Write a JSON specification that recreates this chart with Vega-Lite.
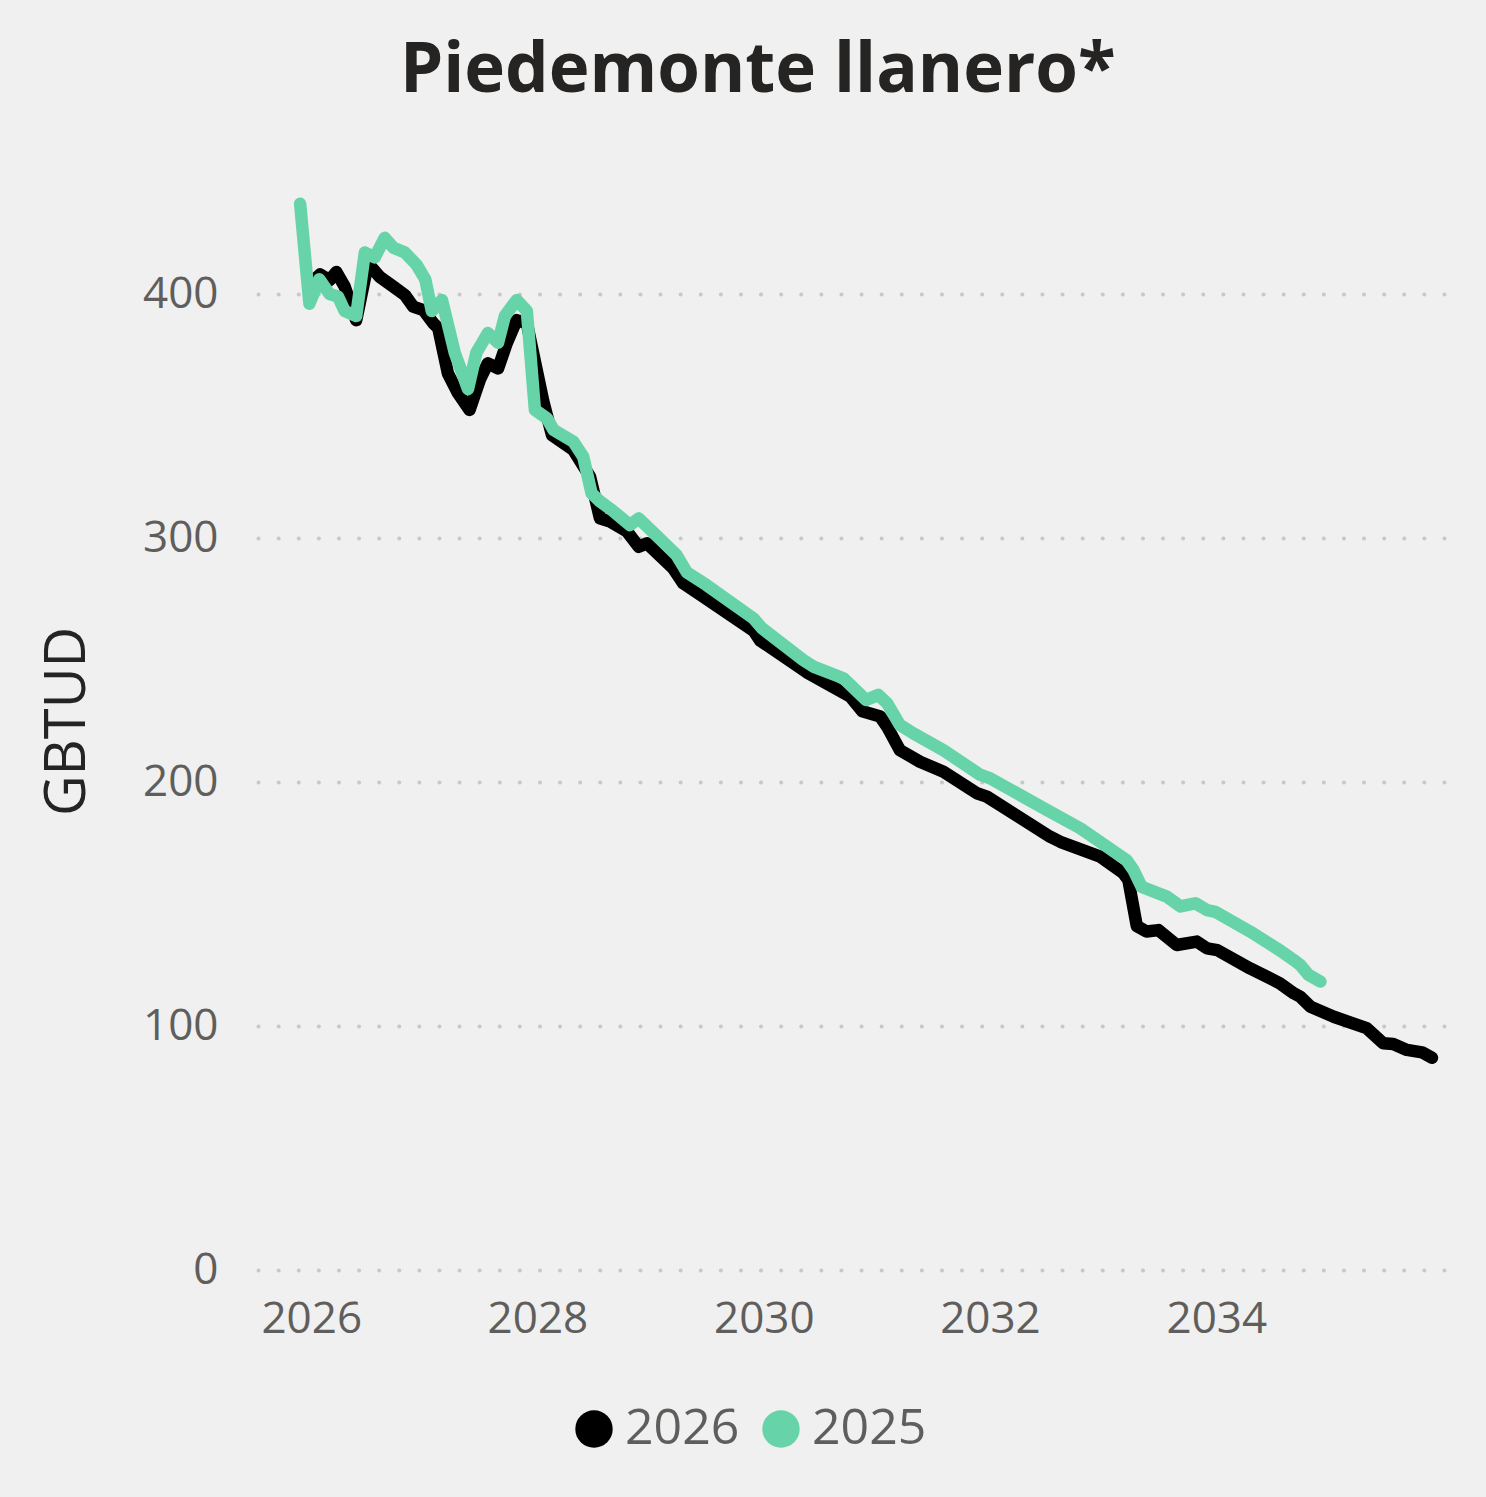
{
  "$schema": "https://vega.github.io/schema/vega-lite/v6.json",
  "autosize": {"type": "none"},
  "width": 1204,
  "height": 1098,
  "padding": {"left": 258, "top": 172, "right": 24, "bottom": 227},
  "background": "#F0F0F0",
  "config": {
    "view": {"stroke": null},
    "font": "Open Sans"
  },
  "title": {
    "text": "Piedemonte llanero*",
    "font": "Open Sans",
    "fontSize": 69,
    "fontWeight": "bold",
    "color": "#252423",
    "anchor": "middle",
    "frame": "bounds",
    "offset": 66,
    "dx": 7
  },
  "data": {
    "values": [
      {"serie": "2026", "fecha": "2026-01-04", "valor": 405},
      {"serie": "2026", "fecha": "2026-01-29", "valor": 408},
      {"serie": "2026", "fecha": "2026-03-01", "valor": 405.7},
      {"serie": "2026", "fecha": "2026-03-23", "valor": 409},
      {"serie": "2026", "fecha": "2026-04-19", "valor": 403},
      {"serie": "2026", "fecha": "2026-05-26", "valor": 389.3},
      {"serie": "2026", "fecha": "2026-07-03", "valor": 412.6},
      {"serie": "2026", "fecha": "2026-08-10", "valor": 407},
      {"serie": "2026", "fecha": "2026-09-23", "valor": 403},
      {"serie": "2026", "fecha": "2026-10-30", "valor": 399.6},
      {"serie": "2026", "fecha": "2026-11-26", "valor": 394.8},
      {"serie": "2026", "fecha": "2026-12-29", "valor": 393.4},
      {"serie": "2026", "fecha": "2027-01-30", "valor": 388},
      {"serie": "2026", "fecha": "2027-02-15", "valor": 386},
      {"serie": "2026", "fecha": "2027-03-18", "valor": 367.5},
      {"serie": "2026", "fecha": "2027-04-20", "valor": 359.3},
      {"serie": "2026", "fecha": "2027-05-27", "valor": 352.5},
      {"serie": "2026", "fecha": "2027-06-29", "valor": 364.8},
      {"serie": "2026", "fecha": "2027-07-25", "valor": 371.6},
      {"serie": "2026", "fecha": "2027-08-27", "valor": 369.5},
      {"serie": "2026", "fecha": "2027-09-24", "valor": 379.8},
      {"serie": "2026", "fecha": "2027-10-26", "valor": 389.3},
      {"serie": "2026", "fecha": "2027-11-28", "valor": 388},
      {"serie": "2026", "fecha": "2028-01-20", "valor": 356},
      {"serie": "2026", "fecha": "2028-02-17", "valor": 342.2},
      {"serie": "2026", "fecha": "2028-04-26", "valor": 336.1},
      {"serie": "2026", "fecha": "2028-06-19", "valor": 325.1},
      {"serie": "2026", "fecha": "2028-07-21", "valor": 308.1},
      {"serie": "2026", "fecha": "2028-08-23", "valor": 306.7},
      {"serie": "2026", "fecha": "2028-10-16", "valor": 302.7},
      {"serie": "2026", "fecha": "2028-11-23", "valor": 296.4},
      {"serie": "2026", "fecha": "2028-12-20", "valor": 297.8},
      {"serie": "2026", "fecha": "2029-03-14", "valor": 287.6},
      {"serie": "2026", "fecha": "2029-04-16", "valor": 281.4},
      {"serie": "2026", "fecha": "2029-06-20", "valor": 275.9},
      {"serie": "2026", "fecha": "2029-11-29", "valor": 262},
      {"serie": "2026", "fecha": "2029-12-20", "valor": 258},
      {"serie": "2026", "fecha": "2030-05-19", "valor": 245},
      {"serie": "2026", "fecha": "2030-10-07", "valor": 235},
      {"serie": "2026", "fecha": "2030-11-15", "valor": 229},
      {"serie": "2026", "fecha": "2031-01-12", "valor": 226.8},
      {"serie": "2026", "fecha": "2031-02-03", "valor": 222.7},
      {"serie": "2026", "fecha": "2031-03-16", "valor": 213.1},
      {"serie": "2026", "fecha": "2031-05-20", "valor": 208.3},
      {"serie": "2026", "fecha": "2031-08-04", "valor": 204.2},
      {"serie": "2026", "fecha": "2031-11-20", "valor": 195.4},
      {"serie": "2026", "fecha": "2031-12-22", "valor": 194},
      {"serie": "2026", "fecha": "2032-07-13", "valor": 177.6},
      {"serie": "2026", "fecha": "2032-08-15", "valor": 175.5},
      {"serie": "2026", "fecha": "2032-12-22", "valor": 169.4},
      {"serie": "2026", "fecha": "2033-03-07", "valor": 162.6},
      {"serie": "2026", "fecha": "2033-03-23", "valor": 159.8},
      {"serie": "2026", "fecha": "2033-04-19", "valor": 141},
      {"serie": "2026", "fecha": "2033-05-21", "valor": 138.7},
      {"serie": "2026", "fecha": "2033-06-28", "valor": 139.3},
      {"serie": "2026", "fecha": "2033-08-26", "valor": 133.2},
      {"serie": "2026", "fecha": "2033-10-30", "valor": 134.6},
      {"serie": "2026", "fecha": "2033-12-02", "valor": 131.8},
      {"serie": "2026", "fecha": "2034-01-04", "valor": 131.1},
      {"serie": "2026", "fecha": "2034-04-20", "valor": 123.6},
      {"serie": "2026", "fecha": "2034-07-25", "valor": 117.5},
      {"serie": "2026", "fecha": "2034-09-08", "valor": 113.4},
      {"serie": "2026", "fecha": "2034-09-29", "valor": 112},
      {"serie": "2026", "fecha": "2034-11-01", "valor": 107.9},
      {"serie": "2026", "fecha": "2035-01-15", "valor": 103.8},
      {"serie": "2026", "fecha": "2035-05-01", "valor": 99.1},
      {"serie": "2026", "fecha": "2035-06-24", "valor": 92.9},
      {"serie": "2026", "fecha": "2035-07-26", "valor": 92.6},
      {"serie": "2026", "fecha": "2035-09-08", "valor": 90.2},
      {"serie": "2026", "fecha": "2035-10-27", "valor": 89.2},
      {"serie": "2026", "fecha": "2035-11-28", "valor": 87},
      {"serie": "2025", "fecha": "2025-11-26", "valor": 437},
      {"serie": "2025", "fecha": "2025-12-26", "valor": 396},
      {"serie": "2025", "fecha": "2026-01-27", "valor": 406},
      {"serie": "2025", "fecha": "2026-03-01", "valor": 400},
      {"serie": "2025", "fecha": "2026-03-28", "valor": 399},
      {"serie": "2025", "fecha": "2026-04-19", "valor": 393},
      {"serie": "2025", "fecha": "2026-05-26", "valor": 391},
      {"serie": "2025", "fecha": "2026-06-23", "valor": 417},
      {"serie": "2025", "fecha": "2026-07-25", "valor": 415},
      {"serie": "2025", "fecha": "2026-08-26", "valor": 423},
      {"serie": "2025", "fecha": "2026-09-23", "valor": 419},
      {"serie": "2025", "fecha": "2026-10-30", "valor": 417},
      {"serie": "2025", "fecha": "2026-12-07", "valor": 412},
      {"serie": "2025", "fecha": "2027-01-04", "valor": 406},
      {"serie": "2025", "fecha": "2027-01-25", "valor": 393},
      {"serie": "2025", "fecha": "2027-02-27", "valor": 397.5},
      {"serie": "2025", "fecha": "2027-04-09", "valor": 376},
      {"serie": "2025", "fecha": "2027-05-22", "valor": 361},
      {"serie": "2025", "fecha": "2027-06-18", "valor": 376},
      {"serie": "2025", "fecha": "2027-07-25", "valor": 384},
      {"serie": "2025", "fecha": "2027-08-27", "valor": 380},
      {"serie": "2025", "fecha": "2027-09-18", "valor": 391},
      {"serie": "2025", "fecha": "2027-10-26", "valor": 397.5},
      {"serie": "2025", "fecha": "2027-11-28", "valor": 393},
      {"serie": "2025", "fecha": "2027-12-24", "valor": 352.5},
      {"serie": "2025", "fecha": "2028-02-01", "valor": 349},
      {"serie": "2025", "fecha": "2028-02-22", "valor": 344.3},
      {"serie": "2025", "fecha": "2028-04-26", "valor": 339.5},
      {"serie": "2025", "fecha": "2028-05-28", "valor": 333.3},
      {"serie": "2025", "fecha": "2028-06-24", "valor": 318.3},
      {"serie": "2025", "fecha": "2028-07-21", "valor": 315},
      {"serie": "2025", "fecha": "2028-08-28", "valor": 311.5},
      {"serie": "2025", "fecha": "2028-10-26", "valor": 305.3},
      {"serie": "2025", "fecha": "2028-11-23", "valor": 308},
      {"serie": "2025", "fecha": "2029-01-11", "valor": 302},
      {"serie": "2025", "fecha": "2029-03-25", "valor": 293},
      {"serie": "2025", "fecha": "2029-04-27", "valor": 286},
      {"serie": "2025", "fecha": "2029-06-30", "valor": 280.7},
      {"serie": "2025", "fecha": "2029-11-29", "valor": 267},
      {"serie": "2025", "fecha": "2029-12-26", "valor": 263},
      {"serie": "2025", "fecha": "2030-05-08", "valor": 250},
      {"serie": "2025", "fecha": "2030-06-10", "valor": 247.3},
      {"serie": "2025", "fecha": "2030-09-15", "valor": 242.5},
      {"serie": "2025", "fecha": "2030-11-27", "valor": 233.6},
      {"serie": "2025", "fecha": "2031-01-06", "valor": 235.7},
      {"serie": "2025", "fecha": "2031-02-03", "valor": 232.3},
      {"serie": "2025", "fecha": "2031-03-16", "valor": 223.4},
      {"serie": "2025", "fecha": "2031-04-28", "valor": 220},
      {"serie": "2025", "fecha": "2031-08-04", "valor": 213},
      {"serie": "2025", "fecha": "2031-11-30", "valor": 203},
      {"serie": "2025", "fecha": "2032-01-02", "valor": 201.5},
      {"serie": "2025", "fecha": "2032-07-03", "valor": 188.5},
      {"serie": "2025", "fecha": "2032-10-19", "valor": 181},
      {"serie": "2025", "fecha": "2033-03-17", "valor": 168},
      {"serie": "2025", "fecha": "2033-04-08", "valor": 164},
      {"serie": "2025", "fecha": "2033-05-05", "valor": 157},
      {"serie": "2025", "fecha": "2033-06-01", "valor": 155.7},
      {"serie": "2025", "fecha": "2033-07-25", "valor": 153},
      {"serie": "2025", "fecha": "2033-09-07", "valor": 149},
      {"serie": "2025", "fecha": "2033-10-25", "valor": 150.3},
      {"serie": "2025", "fecha": "2033-12-02", "valor": 147.5},
      {"serie": "2025", "fecha": "2033-12-29", "valor": 146.8},
      {"serie": "2025", "fecha": "2034-04-20", "valor": 138.7},
      {"serie": "2025", "fecha": "2034-07-25", "valor": 131},
      {"serie": "2025", "fecha": "2034-09-08", "valor": 127},
      {"serie": "2025", "fecha": "2034-09-29", "valor": 125},
      {"serie": "2025", "fecha": "2034-10-25", "valor": 121},
      {"serie": "2025", "fecha": "2034-12-03", "valor": 118.2}
    ]
  },
  "mark": {"type": "line", "strokeWidth": 12.5, "strokeCap": "round", "strokeJoin": "round"},
  "encoding": {
    "x": {
      "field": "fecha",
      "type": "temporal",
      "scale": {
        "type": "utc",
        "domain": [
          {"year": 2025, "month": 7, "date": 13, "utc": true},
          {"year": 2036, "month": 3, "date": 4, "utc": true}
        ]
      },
      "axis": {
        "title": null,
        "values": [
          {"year": 2026, "month": 1, "date": 1, "utc": true},
          {"year": 2028, "month": 1, "date": 1, "utc": true},
          {"year": 2030, "month": 1, "date": 1, "utc": true},
          {"year": 2032, "month": 1, "date": 1, "utc": true},
          {"year": 2034, "month": 1, "date": 1, "utc": true}
        ],
        "format": "%Y",
        "grid": false,
        "domain": false,
        "ticks": false,
        "labelFont": "Open Sans",
        "labelFontSize": 44,
        "labelColor": "#605E5C",
        "labelPadding": 27,
        "labelFlush": false
      }
    },
    "y": {
      "field": "valor",
      "type": "quantitative",
      "scale": {"domain": [0, 450], "nice": false},
      "axis": {
        "title": "GBTUD",
        "titleFont": "Open Sans",
        "titleFontSize": 56,
        "titleFontWeight": "normal",
        "titleColor": "#252423",
        "titlePadding": 46,
        "values": [0, 100, 200, 300, 400],
        "domain": false,
        "ticks": false,
        "labelFont": "Open Sans",
        "labelFontSize": 44,
        "labelColor": "#605E5C",
        "labelPadding": 40,
        "grid": true,
        "gridColor": "#C8C8C8",
        "gridWidth": 4,
        "gridDash": [0.1, 20],
        "gridCap": "round"
      }
    },
    "color": {
      "field": "serie",
      "type": "nominal",
      "sort": ["2026", "2025"],
      "scale": {"domain": ["2026", "2025"], "range": ["#000000", "#66D4A8"]},
      "legend": {
        "title": null,
        "orient": "none",
        "legendX": 311,
        "legendY": 1232,
        "direction": "horizontal",
        "symbolType": "circle",
        "symbolSize": 1400,
        "symbolOpacity": 1,
        "labelFont": "Open Sans",
        "labelFontSize": 50,
        "labelColor": "#605E5C",
        "columnPadding": 16,
        "labelOffset": 6,
        "encode": {
          "symbols": {
            "update": {
              "fill": {"scale": "color", "field": "value"},
              "fillOpacity": {"value": 1},
              "strokeWidth": {"value": 0}
            }
          }
        }
      }
    }
  }
}
